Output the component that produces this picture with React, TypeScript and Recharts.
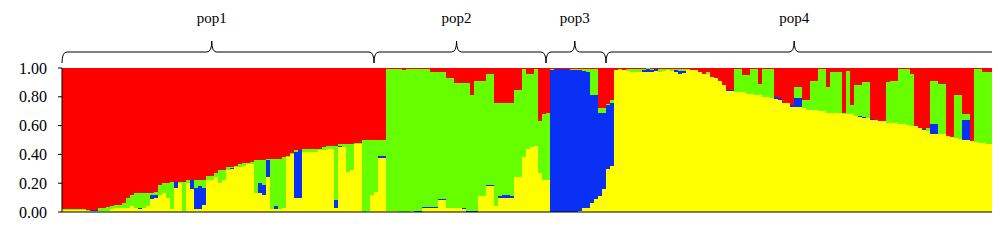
import React from 'react';
import { BarChart, Bar, XAxis, YAxis, ReferenceArea, ReferenceLine } from 'recharts';

// populations (brace groups) and their sizes in individuals
const popNames = ['pop1', 'pop2', 'pop3', 'pop4'];
const popSizes = [78, 43, 15, 98];
const yTicks = [0, 0.2, 0.4, 0.6, 0.8, 1];

// membership coefficients per individual, left to right (stack order: yellow, blue, green, red)
const yellow = [
  .015, .015, .015, .015, .015, .015, .01, .005, .005, .01, .01, .01, .02, .025, .025, .03, .03, .04, .03, .02,
  .03, .04, .09, .10, .12, .13, .10, .02, .17, .20, .01, .20, .16, .02, .02, .05, .22, .22, .24, .20,
  .22, .29, .30, .31, .31, .32, .33, .33, .13, .13, .12, .24, .02, .02, .02, .03, .38, .40, .10, .10,
  .42, .42, .42, .42, .43, .43, .44, .44, .03, .45, .45, .28, .29, .47, .47, 0, .01, .12,
  .14, .375, .375, .005, .005, .005, 0, 0, 0, .005, 0, 0, .03, .03, .03, .03, .08, .08, .03, .03,
  .03, .03, .02, 0, 0, 0, .11, .11, .18, .18, .04, .10, .10, .10, .10, .24, .24, .38, .44, .45,
  .46, .27, .22, .22,
  0, 0, 0, 0, 0, 0, 0, .01, .03, .03, .06, .09, .11, .16, .30,
  .32, .985, .985, .985, .98, .975, .975, .975, .975, .975, .975, .98, .975, .98, .985, .98, .97, .96, .965, .985,
  .985, .985, .97, .96, .96, .94, .93, .91, .88, .84, .84, .83, .83, .83, .82, .82, .81, .81, .80, .80,
  .79, .785, .78, .76, .76, .73, .73, .73, .72, .71, .71, .71, .70, .70, .69, .69, .69, .69, .68, .68,
  .68, .665, .66, .655, .65, .64, .64, .635, .63, .62, .62, .615, .61, .61, .605, .60, .60, .58, .57, .565,
  .545, .545, .54, .54, .53, .52, .515, .51, .50, .50, .49, .485, .48, .48, .475, .47, .47,
];

const blue = [
  0, 0, 0, 0, 0, 0, 0, .012, .012, 0, 0, 0, 0, 0, 0, 0, 0, 0, 0, .01,
  0, 0, .03, .02, 0, 0, 0, 0, .04, 0, 0, 0, .06, .15, .16, .12, 0, 0, 0, 0,
  0, 0, .005, 0, 0, 0, 0, 0, 0, .07, .07, .12, 0, .02, 0, 0, 0, 0, .32, .33,
  0, 0, 0, 0, 0, 0, 0, 0, .05, .005, 0, 0, 0, 0, 0, 0, 0, 0,
  0, .015, .015, 0, 0, 0, 0, 0, 0, 0, .01, .01, .005, .005, .005, .005, .008, .008, 0, 0,
  0, 0, .005, .01, .01, .01, 0, 0, .005, .005, 0, .01, .015, .015, .01, .005, .005, 0, 0, 0,
  0, 0, 0, 0,
  .985, .99, .99, .99, .99, .985, .985, .975, .95, .94, .75, .72, .58, .53, .44,
  .44, 0, 0, 0, 0, 0, 0, 0, .01, .015, .01, .01, 0, 0, 0, 0, .015, .02, .015, 0,
  0, 0, 0, 0, 0, 0, 0, 0, .005, .01, .01, 0, 0, 0, 0, 0, .005, 0, 0, 0,
  0, .015, .01, 0, 0, .01, .06, .06, 0, 0, 0, 0, 0, 0, 0, 0, 0, 0, 0, 0,
  0, .005, .005, .005, .005, .005, 0, 0, 0, 0, 0, .005, 0, 0, 0, 0, 0, .005, .005, 0,
  .065, .065, 0, 0, 0, 0, 0, 0, .14, .14, 0, 0, 0, 0, 0, 0, .005,
];

const green = [
  .005, .005, .005, .005, .005, .005, .005, 0, 0, .02, .02, .025, .02, .025, .025, .03, .07, .08, .10, .10,
  .10, .09, .01, .02, .07, .07, .10, .19, 0, .01, .20, .02, 0, .05, .04, .05, .03, .03, .03, .09,
  .07, .02, .005, .01, .02, .02, .01, .02, .23, .16, .17, .01, .35, .33, .35, .35, .01, .01, .01, 0,
  .02, .02, .02, .02, .01, .02, .02, .02, .38, .015, .02, .19, .18, .01, .01, .50, .49, .38,
  .36, .11, .11, .985, .985, .99, .99, .985, .99, .99, .985, .985, .96, .96, .94, .94, .887, .882, .90, .90,
  .865, .865, .87, .885, .80, .90, .80, .80, .775, .775, .715, .645, .64, .64, .645, .605, .605, .61, .52, .51,
  .53, .36, .46, .465,
  .005, .005, .005, 0, .005, .01, .01, .01, .015, .02, .18, .18, .03, .03, .01,
  .02, 0, .005, 0, .015, .02, .02, .02, .01, .01, .01, .005, .02, .01, .005, .015, .01, .01, .015, .01,
  0, 0, 0, 0, .01, 0, 0, 0, 0, 0, 0, .16, .16, .12, .13, .17, .175, .08, .19, .195,
  .20, 0, 0, 0, 0, 0, .08, .08, .06, .07, .20, .20, .29, .29, .18, .28, .28, .28, .01, .30,
  .06, .21, .215, .24, .245, 0, 0, 0, 0, .28, .29, .29, .38, .38, .385, .36, 0, 0, 0, .015,
  .30, .30, .35, .35, 0, 0, .295, .30, .04, .04, 0, .505, .51, .49, .495, .50, .515,
];

const red = [
  .98, .98, .98, .98, .98, .98, .985, .983, .983, .97, .97, .965, .96, .95, .95, .94, .90, .88, .87, .87,
  .87, .87, .87, .86, .81, .80, .80, .79, .79, .79, .79, .78, .78, .78, .78, .78, .75, .75, .73, .71,
  .71, .69, .69, .68, .67, .66, .66, .65, .64, .64, .64, .63, .63, .63, .63, .62, .61, .59, .57, .57,
  .56, .56, .56, .56, .56, .55, .54, .54, .54, .53, .53, .53, .53, .52, .52, .50, .50, .50,
  .50, .50, .50, .01, .01, .005, .01, .015, .01, .005, .005, .005, .005, .005, .025, .025, .025, .03, .07, .07,
  .105, .105, .105, .105, .19, .09, .09, .09, .04, .04, .245, .245, .245, .245, .245, .15, .15, .01, .04, .04,
  .01, .37, .32, .315,
  .01, .005, .005, .01, .005, .005, .005, .005, .005, .01, .01, .01, .28, .28, .25,
  .22, .015, .01, .015, .005, .005, .005, .005, .005, 0, .005, .005, .005, .01, .01, .005, .005, .01, .005, .005,
  .015, .015, .03, .04, .03, .06, .07, .09, .115, .15, .15, .01, .01, .05, .05, .01, .01, .11, .01, .005,
  .01, .20, .21, .24, .24, .26, .13, .13, .22, .22, .09, .09, .01, .01, .13, .03, .03, .03, .31, .02,
  .26, .12, .12, .10, .10, .355, .36, .365, .37, .10, .09, .09, .01, .01, .01, .04, .40, .415, .425, .42,
  .09, .09, .11, .11, .47, .48, .19, .19, .32, .32, .51, .01, .01, .03, .03, .03, .01,
];

const data = yellow.map((v, i) => ({ id: i, yellow: v, blue: blue[i], green: green[i], red: red[i] }));

const popRanges = popNames.map((name, k) => {
  const start = popSizes.slice(0, k).reduce((a, b) => a + b, 0);
  return { name, start, end: start + popSizes[k] - 1 };
});

const serif = '"Liberation Serif", "Times New Roman", serif';

function Brace(props: any) {
  const { x, y, width, label } = props;
  const x0 = x;
  const x1 = x + width;
  const xm = x + width * 0.48; // the tip sits a little left of centre
  const yEnd = y - 5;
  const yLine = y - 16;
  const yPeak = y - 27;
  const r = 5;
  const d =
    `M${x0},${yEnd} Q${x0},${yLine} ${x0 + r},${yLine} L${xm - r},${yLine} ` +
    `Q${xm},${yLine} ${xm},${yPeak} Q${xm},${yLine} ${xm + r},${yLine} ` +
    `L${x1 - r},${yLine} Q${x1},${yLine} ${x1},${yEnd}`;
  return (
    <g>
      <path d={d} fill="none" stroke="#000" strokeWidth={1} />
      <text x={xm} y={y - 45} textAnchor="middle" fontSize={15} fontFamily={serif} fill="#000">
        {label}
      </text>
    </g>
  );
}

export default function App() {
  return (
    <div>
      <style>{'.recharts-rectangle { shape-rendering: crispEdges; }'}</style>
      <BarChart
        width={992}
        height={230}
        data={data}
        margin={{ top: 60, right: 2, left: 0, bottom: 26 }}
        barCategoryGap={0}
        barGap={0}
      >
        <XAxis dataKey="id" type="category" hide />
        <YAxis
          domain={[0, 1]}
          ticks={yTicks}
          allowDataOverflow
          width={54}
          tickFormatter={(v: number) => v.toFixed(2)}
          tick={{ fill: '#000', fontSize: 16, fontFamily: serif }}
          tickSize={4}
          tickMargin={11}
          tickLine={{ stroke: '#000' }}
          axisLine={{ stroke: '#000' }}
        />
        <YAxis
          yAxisId="r"
          orientation="right"
          domain={[0, 1]}
          width={0}
          tick={false}
          tickLine={false}
          axisLine={{ stroke: '#999' }}
        />
        <Bar dataKey="yellow" stackId="q" fill="#FFFF00" isAnimationActive={false} />
        <Bar dataKey="blue" stackId="q" fill="#0A30F5" isAnimationActive={false} />
        <Bar dataKey="green" stackId="q" fill="#66FF00" isAnimationActive={false} />
        <Bar dataKey="red" stackId="q" fill="#FF0000" isAnimationActive={false} />
        <ReferenceLine y={0} stroke="#000" />
        {popRanges.map((p) => (
          <ReferenceArea
            key={p.name}
            x1={p.start}
            x2={p.end}
            ifOverflow="visible"
            shape={(sp: any) => <Brace {...sp} label={p.name} />}
          />
        ))}
      </BarChart>
    </div>
  );
}
